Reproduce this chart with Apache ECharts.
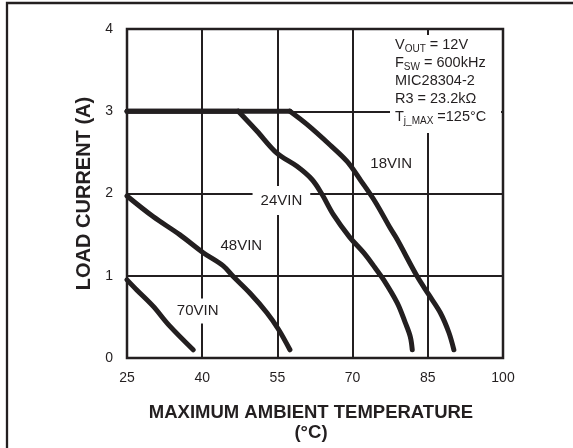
<!DOCTYPE html>
<html><head><meta charset="utf-8">
<script src="https://cdn.jsdelivr.net/npm/echarts@6/dist/echarts.min.js"></script>
<style>html,body{margin:0;padding:0;background:#fff}#c{width:573px;height:448px}</style>
</head><body><div id="c"></div>
<script>
// ---- data (temperature °C, load current A) ----
const xTicks = [25, 40, 55, 70, 85, 100];
const yTicks = [0, 1, 2, 3, 4];
const vin18 = [[25,3.0],[57.5,3.0],[60.9,2.84],[65.5,2.59],[68.9,2.39],[71.6,2.16],[74.5,1.90],[77.5,1.58],[78.9,1.44],[82.9,0.99],[85.2,0.77],[87.5,0.55],[89.2,0.31],[90.2,0.10]];
const vin24 = [[25,3.0],[47.2,3.0],[50.9,2.76],[54.9,2.49],[58.9,2.33],[61.9,2.17],[63.9,1.99],[66.2,1.74],[69.4,1.47],[72.2,1.28],[74.2,1.12],[76.2,0.95],[78.9,0.67],[80.5,0.43],[81.5,0.26],[81.9,0.10]];
const vin48 = [[25,1.97],[30.2,1.72],[35.5,1.50],[40.2,1.28],[44.2,1.12],[46.2,0.99],[49.5,0.79],[52.9,0.55],[55.2,0.35],[57.5,0.10]];
const vin70 = [[25,0.95],[26.9,0.83],[30.2,0.63],[33.5,0.39],[38.2,0.10]];
const seriesNames = ['18VIN', '24VIN', '48VIN', '70VIN'];
const xTitle = 'MAXIMUM AMBIENT TEMPERATURE\n(°C)';
const yTitle = 'LOAD CURRENT (A)';

// ---- chart ----
const X0 = xTicks[0];               // axis counts from 0 so ticks start at 25
const shift = pts => pts.map(p => [p[0] - X0, p[1]]);
const INK = '#231f20';
const FONT = 'Liberation Sans, Arial, sans-serif';

const curveStyle = {color: INK, width: 5, cap: 'round', join: 'round'};
function curveSeries(name, pts, labelAt, pad) {
  const out = [];
  let start = 0;
  if (pts[0][1] === pts[1][1]) {
    out.push({type: 'line', name: name + '-flat', data: shift(pts.slice(0, 2)), showSymbol: false,
      lineStyle: curveStyle, silent: true, z: 3});
    start = 1;
  }
  out.push({type: 'line', name, data: shift(pts.slice(start)), smooth: 0.35, showSymbol: false,
    lineStyle: curveStyle, silent: true, z: 3,
    markPoint: {symbol: 'circle', symbolSize: 0, silent: true, z: 6,
      label: {show: true, position: 'inside', formatter: name, color: INK, fontFamily: FONT, fontSize: 15,
        backgroundColor: '#fff', padding: pad},
      data: [{coord: [labelAt[0] - X0, labelAt[1]]}]}});
  return out;
}

const chart = echarts.init(document.getElementById('c'), null, {renderer: 'canvas'});
chart.setOption({
  animation: false,
  grid: {left: 127, right: 70, top: 29, bottom: 90, show: true, borderColor: INK, borderWidth: 2.5,
    backgroundColor: 'transparent', z: 4},
  xAxis: {type: 'value', min: 0, max: xTicks[xTicks.length - 1] - X0, interval: xTicks[1] - xTicks[0],
    axisLine: {show: false}, axisTick: {show: false},
    splitLine: {show: true, lineStyle: {color: INK, width: 2}},
    axisLabel: {formatter: v => String(v + X0), color: INK, fontFamily: FONT, fontSize: 14, margin: 13},
    name: xTitle, nameLocation: 'middle', nameGap: 45,
    nameTextStyle: {color: INK, fontFamily: FONT, fontSize: 18.5, fontWeight: 'bold', lineHeight: 20,
      padding: [0, 8, 0, 0]}},
  yAxis: {type: 'value', min: yTicks[0], max: yTicks[yTicks.length - 1], interval: 1,
    axisLine: {show: false}, axisTick: {show: false},
    splitLine: {show: true, lineStyle: {color: INK, width: 2}},
    axisLabel: {color: INK, fontFamily: FONT, fontSize: 14, margin: 14},
    name: yTitle, nameLocation: 'middle', nameGap: 26,
    nameTextStyle: {color: INK, fontFamily: FONT, fontSize: 20, fontWeight: 'bold'}},
  series: [
    ...curveSeries(seriesNames[0], vin18, [77.7, 2.36], [2, 2]),
    ...curveSeries(seriesNames[1], vin24, [55.8, 1.915], [7, 8]),
    ...curveSeries(seriesNames[2], vin48, [47.8, 1.36], [2, 2]),
    ...curveSeries(seriesNames[3], vin70, [39.1, 0.57], [5, 3])
  ],
  graphic: [
    {type: 'rect', shape: {x: 7, y: 3, width: 620, height: 500}, style: {fill: 'none', stroke: INK, lineWidth: 2.3}, silent: true},
    {type: 'rect', shape: {x: 390, y: 35, width: 111, height: 98}, style: {fill: '#fff'}, z: 10, silent: true},
    {type: 'text', x: 395, y: 36, z: 11, silent: true,
      style: {
        text: '{m|V}{s|OUT}{m| = 12V}\n{m|F}{s|SW}{m| = 600kHz}\n{m|MIC28304-2}\n{m|R3 = 23.2kΩ}\n{m|T}{s|j_MAX}{m| =125°C}',
        align: 'left', verticalAlign: 'top', fill: INK,
        rich: {
          m: {fontFamily: FONT, fontSize: 14.5, lineHeight: 18, color: INK, verticalAlign: 'middle'},
          s: {fontFamily: FONT, fontSize: 10, lineHeight: 9, color: INK, verticalAlign: 'bottom'}
        }
      }}
  ]
});
</script></body></html>
